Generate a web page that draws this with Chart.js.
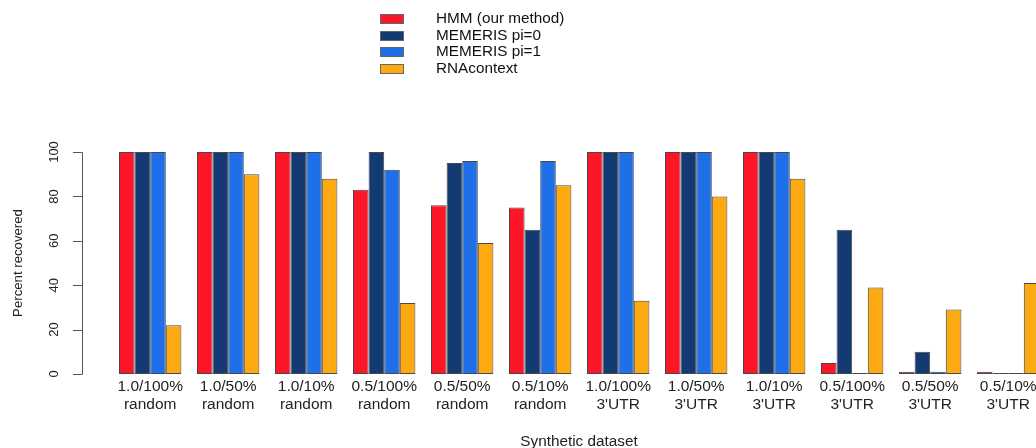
<!DOCTYPE html>
<html>
<head>
<meta charset="utf-8">
<script src="https://cdn.jsdelivr.net/npm/chart.js@4/dist/chart.umd.min.js"></script>
<style>
  html, body { margin: 0; padding: 0; background: #fff; overflow: hidden; width: 1036px; height: 448px; }
  canvas { display: block; }
</style>
</head>
<body>
<canvas id="chart" width="1100" height="448" style="width:1100px;height:448px"></canvas>
<script>
// groups of the synthetic dataset (two-line labels)
const categories = [
  ['1.0/100%', 'random'], ['1.0/50%', 'random'], ['1.0/10%', 'random'],
  ['0.5/100%', 'random'], ['0.5/50%', 'random'], ['0.5/10%', 'random'],
  ['1.0/100%', "3'UTR"], ['1.0/50%', "3'UTR"], ['1.0/10%', "3'UTR"],
  ['0.5/100%', "3'UTR"], ['0.5/50%', "3'UTR"], ['0.5/10%', "3'UTR"]
];
const seriesNames = ['HMM (our method)', 'MEMERIS pi=0', 'MEMERIS pi=1', 'RNAcontext'];
const hmm        = [100, 100, 100, 83, 76, 75, 100, 100, 100, 5, 1, 1];
const memerisPi0 = [100, 100, 100, 100, 95, 65, 100, 100, 100, 65, 10, 0];
const memerisPi1 = [100, 100, 100, 92, 96, 96, 100, 100, 100, 0, 1, 0];
const rnaContext = [22, 90, 88, 32, 59, 85, 33, 80, 88, 39, 29, 41];
const yTicks = [0, 20, 40, 60, 80, 100];

const colors = ['#FC1628', '#133A72', '#1F6FE9', '#FCA912'];
const FONT = '"Liberation Sans", Arial, sans-serif';

// R-style axis, titles and legend drawn on top
const rDecor = {
  id: 'rDecor',
  afterDraw(chart) {
    const ctx = chart.ctx;
    const y = chart.scales.y;
    const axisX = 82;
    ctx.save();
    ctx.strokeStyle = '#555';
    ctx.lineWidth = 1;
    ctx.beginPath();
    ctx.moveTo(axisX + 0.5, Math.round(y.getPixelForValue(0)) + 0.5);
    ctx.lineTo(axisX + 0.5, Math.round(y.getPixelForValue(100)) + 0.5);
    yTicks.forEach(v => {
      const py = Math.round(y.getPixelForValue(v)) + 0.5;
      ctx.moveTo(axisX - 9, py);
      ctx.lineTo(axisX + 0.5, py);
    });
    ctx.stroke();

    ctx.fillStyle = '#222';
    ctx.textAlign = 'center';
    ctx.textBaseline = 'middle';
    ctx.font = '13px ' + FONT;
    yTicks.forEach(v => {
      ctx.save();
      ctx.translate(54, y.getPixelForValue(v));
      ctx.rotate(-Math.PI / 2);
      ctx.fillText(String(v), 0, 0);
      ctx.restore();
    });

    ctx.font = '13.2px ' + FONT;
    ctx.save();
    ctx.translate(18, (y.getPixelForValue(0) + y.getPixelForValue(100)) / 2);
    ctx.rotate(-Math.PI / 2);
    ctx.fillText('Percent recovered', 0, 0);
    ctx.restore();

    ctx.font = '15.3px ' + FONT;
    ctx.fillText('Synthetic dataset', 579, 442);

    // legend
    ctx.textAlign = 'left';
    chart.data.datasets.forEach((ds, i) => {
      const cy = 19 + i * 16.6;
      ctx.fillStyle = ds.backgroundColor;
      ctx.fillRect(380, Math.round(cy - 5), 24, 10);
      ctx.strokeStyle = '#666';
      ctx.strokeRect(380.5, Math.round(cy - 5) + 0.5, 23, 9);
      ctx.fillStyle = '#111';
      ctx.fillText(ds.label, 436, cy);
    });
    ctx.restore();
  }
};

const allSeries = [hmm, memerisPi0, memerisPi1, rnaContext];

new Chart(document.getElementById('chart'), {
  type: 'bar',
  data: {
    labels: categories,
    datasets: allSeries.map((vals, i) => ({
      label: seriesNames[i],
      data: vals,
      backgroundColor: colors[i],
      borderColor: 'rgba(40,40,40,0.85)',
      borderWidth: 1,
      borderSkipped: false,
      minBarLength: 1,
      categoryPercentage: 0.8,
      barPercentage: 1.0
    }))
  },
  options: {
    responsive: false,
    animation: false,
    events: [],
    layout: { padding: { left: 111.2, right: 52.8, top: 152, bottom: 0 } },
    plugins: { legend: { display: false }, tooltip: { enabled: false }, title: { display: false } },
    scales: {
      x: {
        grid: { display: false, drawTicks: false },
        border: { display: false },
        afterFit(scale) { scale.height = 74; },
        ticks: {
          autoSkip: false,
          maxRotation: 0,
          padding: 4,
          color: '#222',
          font: { family: FONT, size: 15.5, lineHeight: 1.16 }
        }
      },
      y: {
        display: false,
        min: 0,
        max: 100
      }
    }
  },
  plugins: [rDecor]
});
</script>
</body>
</html>
